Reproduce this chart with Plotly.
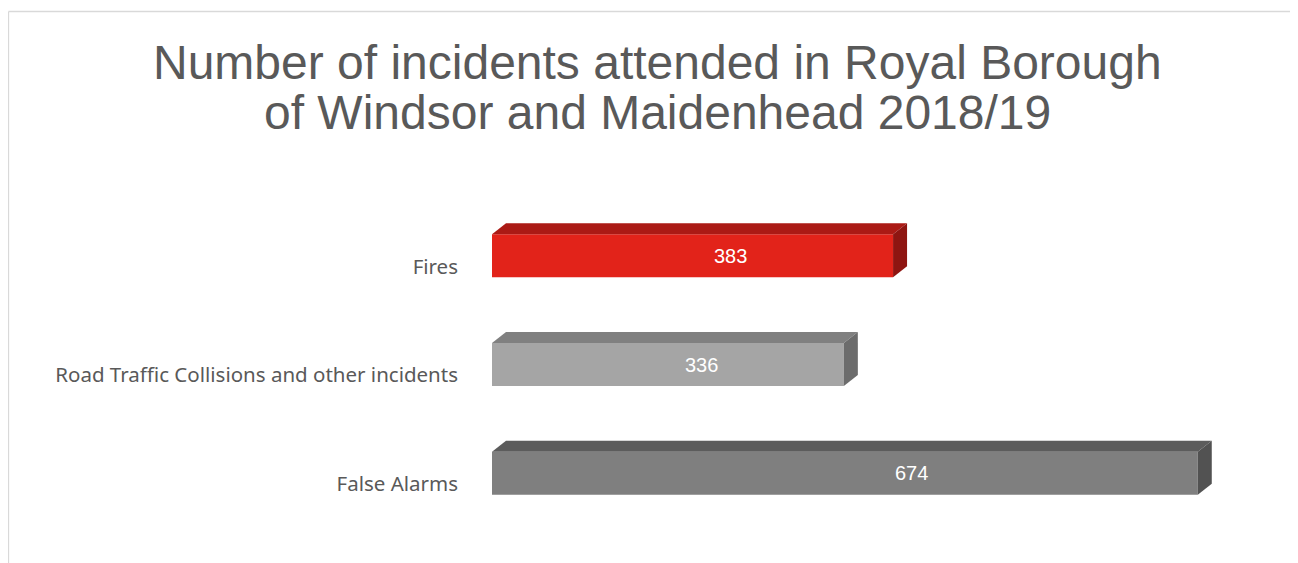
import plotly.graph_objects as go

categories = ["Fires", "Road Traffic Collisions and other incidents", "False Alarms"]
values = [383, 336, 674]
front_colors = ["#E2231A", "#A5A5A5", "#7F7F7F"]
top_colors = ["#AB1A15", "#808080", "#5C5C5C"]
side_colors = ["#8E1511", "#6C6C6C", "#525252"]

OFF = 8  # page body margin
W, H = 1298 - OFF, 563 - OFF
ML, MR, MT, MB = 492 - OFF, 73, 212 - OFF, 25
XMAX = 700
ppx = (W - ML - MR) / XMAX          # pixels per value unit
ppy = (H - MT - MB) / 3.0           # pixels per category

dx = 14 / ppx       # depth offset in value units
dy = 11 / ppy       # depth offset in category units
bar_h = 43 / ppy
shift = 10.5 / ppy  # front face centre above category tick

ypos = [2 - i for i in range(len(categories))]

fig = go.Figure()
for i, (cat, v) in enumerate(zip(categories, values)):
    y = ypos[i]
    lo = y + shift - bar_h / 2
    hi = y + shift + bar_h / 2
    # front face
    fig.add_trace(go.Scatter(
        x=[0, v, v, 0, 0], y=[lo, lo, hi, hi, lo], fill="toself",
        fillcolor=front_colors[i], line=dict(width=0), mode="lines",
        hoverinfo="skip", showlegend=False))
    # top face
    fig.add_trace(go.Scatter(
        x=[0, v, v + dx, dx, 0], y=[hi, hi, hi + dy, hi + dy, hi], fill="toself",
        fillcolor=top_colors[i], line=dict(width=0), mode="lines",
        hoverinfo="skip", showlegend=False))
    # side face
    fig.add_trace(go.Scatter(
        x=[v, v + dx, v + dx, v, v], y=[lo, lo + dy, hi + dy, hi, lo], fill="toself",
        fillcolor=side_colors[i], line=dict(width=0), mode="lines",
        hoverinfo="skip", showlegend=False))
    fig.add_annotation(x=v * 0.595, y=y + shift, text=str(v), showarrow=False,
                       font=dict(family="Liberation Sans, Arial", size=20, color="white"),
                       xanchor="center", yanchor="middle")

def px_x(p):
    return (p - OFF - ML) / (W - ML - MR)

def px_y(p):
    return (H - MB - (p - OFF)) / (H - MT - MB)

border = "#D9D9D9"
fig.add_shape(type="line", xref="paper", yref="paper",
              x0=px_x(8.5), x1=px_x(8.5), y0=px_y(11.5), y1=px_y(563 + 5),
              line=dict(color=border, width=1.3))
fig.add_shape(type="line", xref="paper", yref="paper",
              x0=px_x(8.5), x1=px_x(1298 + 5), y0=px_y(11.5), y1=px_y(11.5),
              line=dict(color=border, width=1.3))

fig.add_annotation(xref="paper", yref="paper", x=px_x(657), y=px_y(62),
                   text="Number of incidents attended in Royal Borough", showarrow=False,
                   font=dict(family="Liberation Sans, Arial", size=48, color="#595959"),
                   xanchor="center", yanchor="middle")
fig.add_annotation(xref="paper", yref="paper", x=px_x(657), y=px_y(112),
                   text="of Windsor and Maidenhead 2018/19", showarrow=False,
                   font=dict(family="Liberation Sans, Arial", size=48, color="#595959"),
                   xanchor="center", yanchor="middle")

fig.update_layout(
    width=W, height=H,
    margin=dict(l=ML, r=MR, t=MT, b=MB),
    plot_bgcolor="white", paper_bgcolor="white",
    xaxis=dict(range=[0, XMAX], visible=False, fixedrange=True),
    yaxis=dict(range=[-0.5, 2.5], tickmode="array", tickvals=ypos, ticktext=categories,
               showgrid=False, zeroline=False, showline=False, ticks="",
               ticklabelstandoff=33,
               tickfont=dict(family="Noto Sans", size=20.5, color="#595959")),
)

fig.write_html("out.html")
